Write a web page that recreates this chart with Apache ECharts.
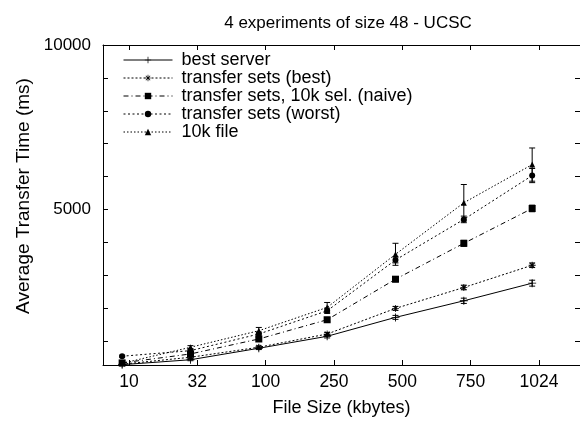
<!DOCTYPE html>
<html><head><meta charset="utf-8">
<script src="https://cdn.jsdelivr.net/npm/echarts@6/dist/echarts.min.js"></script>
<style>html,body{margin:0;padding:0;background:#fff}#c{width:580px;height:422px}</style>
</head><body><div id="c"></div>
<script>
// ---- data ----
const sizeLabels = ['10', '32', '100', '250', '500', '750', '1024'];
const seriesNames = ['best server', 'transfer sets (best)', 'transfer sets, 10k sel. (naive)', 'transfer sets (worst)', '10k file'];
const bestServer = [280, 430, 779, 1143, 1718, 2222, 2758];
const bestSets   = [295, 505, 810, 1212, 1991, 2627, 3303];
const naiveSel   = [334, 606, 1061, 1646, 2879, 3970, 5030];
const worstSets  = [537, 706, 1212, 1918, 3464, 4697, 6030];
const tenKFile   = [320, 809, 1312, 2021, 3636, 5203, 6364];
const errBestServer = [20, 30, 40, 50, 60, 80, 90];
const errBestSets   = [20, 30, 40, 50, 60, 70, 70];
const errNaiveSel   = [20, 40, 50, 60, 80, 90, 100];
const errWorstSets  = [30, 50, 60, 80, 90, 100, 215];
const errTenKFile   = [40, 50, 100, 150, 335, 555, 505];
const yTicks = [1000, 2000, 3000, 4000, 5000, 6000, 7000, 8000, 9000, 10000];
const yLabels = [5000, 10000];
const xTicks = [1, 2, 3, 4, 5, 6, 7];

const X_OFFSET = -0.1;
const FONT = '"Liberation Sans", Arial, Helvetica, sans-serif';

const symPlus = 'path://M0,4.45H10V5.55H0Z M4.45,0H5.55V10H4.45Z';
const symStar = 'path://M0,4.45H10V5.55H0Z M4.45,0H5.55V10H4.45Z M1.2,2 L2,1.2 L8.8,8 L8,8.8Z M8,1.2 L8.8,2 L2,8.8 L1.2,8Z';

const values = [bestServer, bestSets, naiveSel, worstSets, tenKFile];
const errs = [errBestServer, errBestSets, errNaiveSel, errWorstSets, errTenKFile];
const styles = [
  {symbol: symPlus, size: 8, type: 'solid'},
  {symbol: symStar, size: 7, type: [2, 2]},
  {symbol: 'rect', size: 7, type: [5, 3, 1, 3]},
  {symbol: 'circle', size: 6, type: [2, 2.5]},
  {symbol: 'triangle', size: 6, type: [1.5, 2]}
];

function toPoints(arr) { return arr.map((v, i) => [xTicks[i] + X_OFFSET, v]); }
function toErr(arr, e) { return arr.map((v, i) => [xTicks[i] + X_OFFSET, v - e[i], v + e[i]]); }

function renderErr(params, api) {
  const x = api.value(0), lo = api.value(1), hi = api.value(2);
  const p1 = api.coord([x, hi]), p2 = api.coord([x, lo]);
  const w = 3;
  const st = {stroke: '#000', lineWidth: 1, fill: null};
  return {type: 'group', children: [
    {type: 'line', shape: {x1: p1[0], y1: p1[1], x2: p2[0], y2: p2[1]}, style: st},
    {type: 'line', shape: {x1: p1[0] - w, y1: p1[1], x2: p1[0] + w, y2: p1[1]}, style: st},
    {type: 'line', shape: {x1: p2[0] - w, y1: p2[1], x2: p2[0] + w, y2: p2[1]}, style: st}
  ]};
}

const series = [];
seriesNames.forEach((name, k) => {
  series.push({
    name: 'err' + k, type: 'custom', renderItem: renderErr, clip: true,
    encode: {x: 0, y: [1, 2]}, data: toErr(values[k], errs[k]), z: 2, silent: true
  });
});
seriesNames.forEach((name, k) => {
  const s = styles[k];
  series.push({
    name: name, type: 'line', data: toPoints(values[k]),
    symbol: s.symbol, symbolSize: s.size, showSymbol: true,
    lineStyle: {color: '#000', width: 1, type: s.type},
    itemStyle: {color: '#000', borderWidth: 0},
    z: 3, animation: false
  });
});

const axisLine = {show: true, lineStyle: {color: '#000', width: 1}};
const chart = echarts.init(document.getElementById('c'), null, {renderer: 'canvas'});
chart.setOption({
  animation: false,
  backgroundColor: '#fff',
  title: {
    text: '4 experiments of size 48 - UCSC', left: 343, top: 10, textAlign: 'center',
    textStyle: {fontFamily: FONT, fontSize: 17, fontWeight: 'normal', color: '#000'}
  },
  grid: {left: 103, right: -2, top: 45, bottom: 56, containLabel: false},
  legend: {
    data: seriesNames, orient: 'vertical', left: 123, top: 51,
    itemWidth: 49, itemHeight: 8, itemGap: 0,
    lineStyle: {width: 1},
    textStyle: {fontFamily: FONT, fontSize: 18, lineHeight: 17.6, color: '#000', padding: [0, 0, 0, 4]},
    padding: 0, selectedMode: false
  },
  xAxis: [{
    type: 'value', min: 0.62, max: 7.60, position: 'bottom',
    axisLine: axisLine, splitLine: {show: false},
    axisTick: {show: true, inside: true, length: 5, customValues: xTicks, lineStyle: {color: '#000'}},
    axisLabel: {customValues: xTicks, formatter: v => sizeLabels[Math.round(v) - 1] || '', margin: 8,
      fontFamily: FONT, fontSize: 17.5, color: '#000'},
    name: 'File Size (kbytes)', nameLocation: 'middle', nameGap: 34,
    nameTextStyle: {fontFamily: FONT, fontSize: 18, color: '#000'}
  }, {
    type: 'value', min: 0.62, max: 7.60, position: 'top',
    axisLine: axisLine, splitLine: {show: false},
    axisTick: {show: true, inside: true, length: 5, customValues: xTicks, lineStyle: {color: '#000'}},
    axisLabel: {show: false}
  }],
  yAxis: [{
    type: 'value', min: 270, max: 10000, position: 'left',
    axisLine: axisLine, splitLine: {show: false},
    axisTick: {show: true, inside: true, length: 5, customValues: yTicks, lineStyle: {color: '#000'}},
    axisLabel: {customValues: yLabels, formatter: v => String(v), margin: 12, fontFamily: FONT, fontSize: 17, color: '#000'},
    name: 'Average Transfer Time (ms)', nameLocation: 'middle', nameGap: 70, nameRotate: 90,
    nameTextStyle: {fontFamily: FONT, fontSize: 19, color: '#000', padding: [0, 0, 0, 18]}
  }, {
    type: 'value', min: 270, max: 10000, position: 'right',
    axisLine: axisLine, splitLine: {show: false},
    axisTick: {show: true, inside: true, length: 5, customValues: yTicks, lineStyle: {color: '#000'}},
    axisLabel: {show: false}
  }],
  series: series
});
</script></body></html>
